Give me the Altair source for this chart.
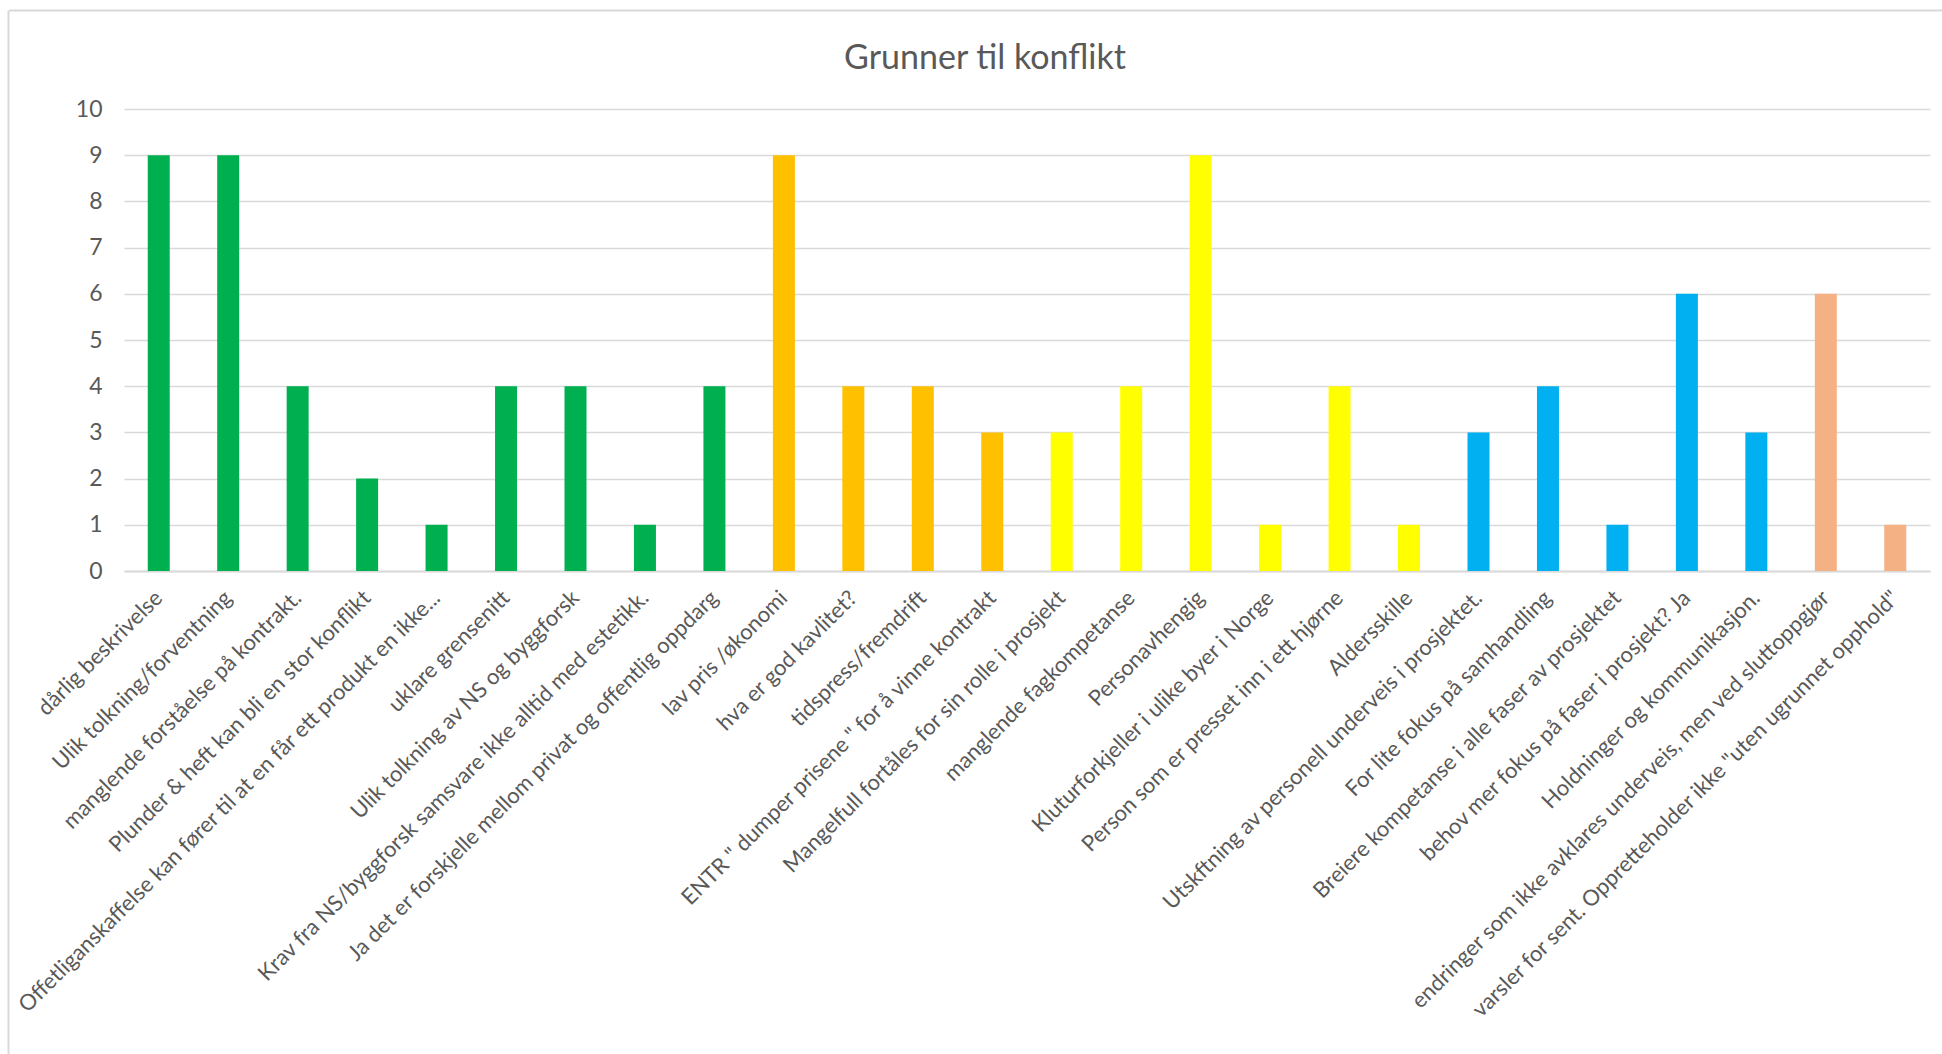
import altair as alt
import pandas as pd

categories = [
    "dårlig beskrivelse",
    "Ulik tolkning/forventning",
    "manglende forståelse på kontrakt.",
    "Plunder & heft kan bli en stor konflikt",
    "Offetliganskaffelse kan fører til at en får ett produkt en ikke...",
    "uklare grensenitt",
    "Ulik tolkning av NS og byggforsk",
    "Krav fra NS/byggforsk samsvare ikke alltid med estetikk.",
    "Ja det er forskjelle mellom privat og offentlig oppdarg",
    "lav pris /økonomi",
    "hva er god kavlitet?",
    "tidspress/fremdrift",
    "ENTR \" dumper prisene \" for å vinne kontrakt",
    "Mangelfull fortåles for sin rolle i prosjekt",
    "manglende fagkompetanse",
    "Personavhengig",
    "Kluturforkjeller i ulike byer i Norge",
    "Person som er presset inn i ett hjørne",
    "Aldersskille",
    "Utskftning av personell underveis i prosjektet.",
    "For lite fokus på samhandling",
    "Breiere kompetanse i alle faser av prosjektet",
    "behov mer fokus på faser i prosjekt? Ja",
    "Holdninger og kommunikasjon.",
    "endringer som ikke avklares underveis, men ved sluttoppgjør",
    "varsler for sent. Oppretteholder ikke \"uten ugrunnet opphold\"",
]
values = [9, 9, 4, 2, 1, 4, 4, 1, 4, 9, 4, 4, 3, 3, 4, 9, 1, 4, 1, 3, 4, 1, 6, 3, 6, 1]
groups = ["A"] * 9 + ["B"] * 4 + ["C"] * 6 + ["D"] * 5 + ["E"] * 2
group_names = ["A", "B", "C", "D", "E"]
group_colors = ["#00B050", "#FFC000", "#FFFF00", "#00B0F0", "#F4B183"]
y_ticks = list(range(0, 11))

df = pd.DataFrame({"kategori": categories, "antall": values, "gruppe": groups})
frame_df = pd.DataFrame({"k": [0]})

FONT = "Lato"
TXT = "#595959"
FRAME = "#D9D9D9"

bars = alt.Chart(df).mark_bar(size=22).encode(
    x=alt.X(
        "kategori:N",
        sort=categories,
        scale=alt.Scale(paddingInner=0, paddingOuter=0),
        axis=alt.Axis(
            title=None,
            labelAngle=-45,
            labelAlign="right",
            labelBaseline="middle",
            labelFont=FONT,
            labelFontSize=22,
            labelColor=TXT,
            labelLimit=2000,
            labelPadding=23,
            labelOverlap=False,
            ticks=False,
            domainColor="#D9D9D9",
            domainWidth=2,
            grid=False,
        ),
    ),
    y=alt.Y(
        "antall:Q",
        scale=alt.Scale(domain=[0, 10], nice=False),
        axis=alt.Axis(
            title=None,
            values=y_ticks,
            labelFont=FONT,
            labelFontSize=23,
            labelColor=TXT,
            labelPadding=22,
            ticks=False,
            domain=False,
            gridColor="#D9D9D9",
            gridWidth=1.5,
        ),
    ),
    color=alt.Color(
        "gruppe:N",
        scale=alt.Scale(domain=group_names, range=group_colors),
        legend=None,
    ),
)

# chart-area frame (top and left edges, as in the reference)
frame_top = alt.Chart(frame_df).mark_rule(color=FRAME, strokeWidth=2).encode(
    x=alt.value(-115), x2=alt.value(1818), y=alt.value(-98.5)
)
frame_left = alt.Chart(frame_df).mark_rule(color=FRAME, strokeWidth=2).encode(
    x=alt.value(-115.5), y=alt.value(-98.5), y2=alt.value(950)
)

chart = alt.layer(bars, frame_top, frame_left).properties(
    width=1806,
    height=462,
    title=alt.TitleParams(
        "Grunner til konflikt",
        font=FONT,
        fontSize=34,
        fontWeight="normal",
        color=TXT,
        anchor="middle",
        baseline="alphabetic",
        offset=-93,
        dx=-42,
    ),
    autosize=alt.AutoSizeParams(type="none"),
    padding={"left": 124, "top": 109, "right": 12, "bottom": 483},
).configure_view(stroke=None)

chart.save("out.html", embed_options={"renderer": "svg", "actions": False})
